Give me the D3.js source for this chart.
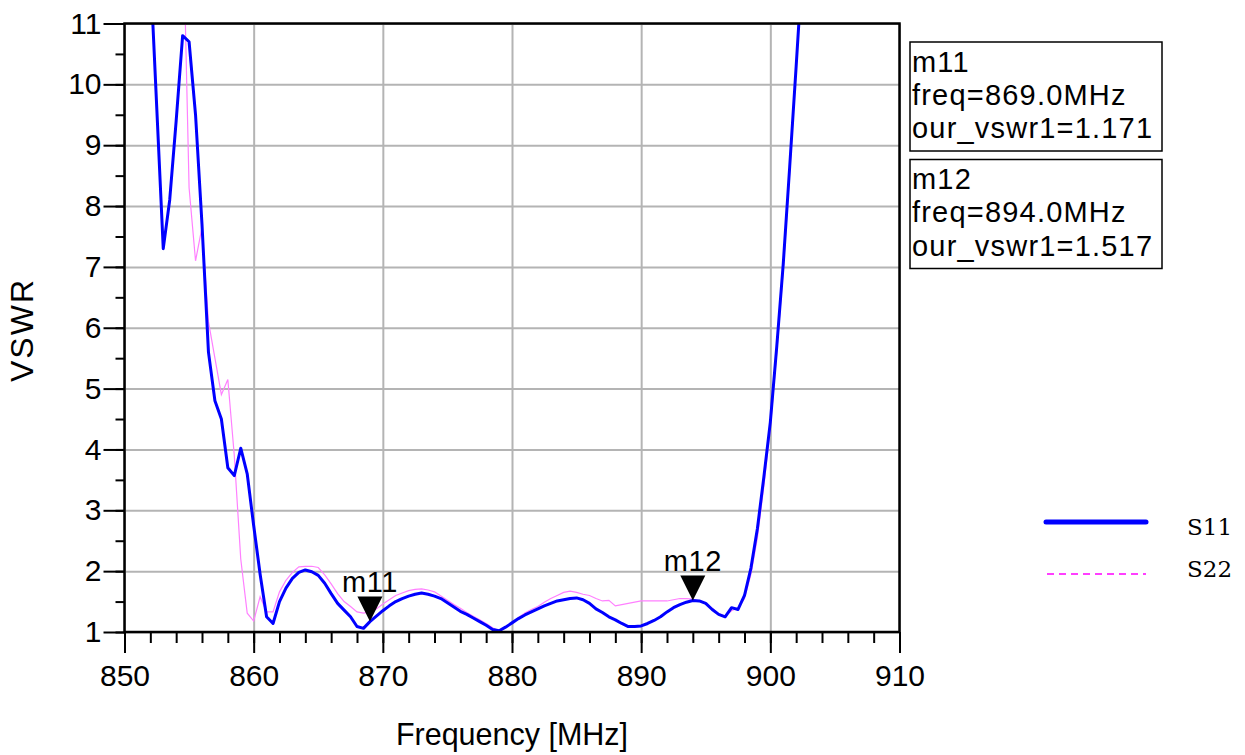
<!DOCTYPE html>
<html>
<head>
<meta charset="utf-8">
<script src="https://cdn.jsdelivr.net/npm/d3@7"></script>
<style>
  body { margin: 0; background: #fff; }
</style>
</head>
<body>
<div id="viz"></div>
<script>
const width = 1245;
const height = 755;
const margin = { top: 23.5, right: 345.5, bottom: 123, left: 124.5 };
const fontSans = '"Liberation Sans", Arial, sans-serif';

// sweep, MHz
const freq = [
  852.0, 852.5, 853.0, 853.5, 854.0, 854.5, 855.0, 855.5, 856.0, 856.5,
  857.0, 857.5, 858.0, 858.5, 859.0, 859.5, 860.0, 860.5, 861.0, 861.5,
  862.0, 862.5, 863.0, 863.5, 864.0, 864.5, 865.0, 865.5, 866.0, 866.5,
  867.0, 867.5, 868.0, 868.5, 869.0, 869.5, 870.0, 870.5, 871.0, 871.5,
  872.0, 872.5, 873.0, 873.5, 874.0, 874.5, 875.0, 875.5, 876.0, 876.5,
  877.0, 877.5, 878.0, 878.5, 879.0, 879.5, 880.0, 880.5, 881.0, 881.5,
  882.0, 882.5, 883.0, 883.5, 884.0, 884.5, 885.0, 885.5, 886.0, 886.5,
  887.0, 887.5, 888.0, 888.5, 889.0, 889.5, 890.0, 890.5, 891.0, 891.5,
  892.0, 892.5, 893.0, 893.5, 894.0, 894.5, 895.0, 895.5, 896.0, 896.5,
  897.0, 897.5, 898.0, 898.5, 899.0, 899.5, 900.0, 900.5, 901.0, 901.5,
  902.0, 902.5
];

const s11 = [
  11.9, 9.6, 7.3, 8.1, 9.4, 10.8, 10.7, 9.5, 7.7, 5.6,
  4.8, 4.5, 3.7, 3.57, 4.02, 3.6, 2.75, 1.95, 1.25, 1.14,
  1.5, 1.72, 1.88, 1.98, 2.02, 1.99, 1.93, 1.8, 1.63, 1.47,
  1.36, 1.25, 1.09, 1.06, 1.171, 1.26, 1.35, 1.43, 1.5, 1.55,
  1.59, 1.62, 1.64, 1.62, 1.59, 1.55, 1.48, 1.41, 1.34, 1.29,
  1.23, 1.17, 1.11, 1.04, 1.02, 1.08, 1.15, 1.22, 1.28, 1.33,
  1.38, 1.43, 1.47, 1.51, 1.53, 1.55, 1.56, 1.53, 1.47, 1.38,
  1.32, 1.25, 1.2, 1.14, 1.09, 1.09, 1.1, 1.14, 1.19, 1.25,
  1.33, 1.4, 1.45, 1.49, 1.517, 1.51, 1.47, 1.37, 1.29, 1.25,
  1.4, 1.37, 1.6, 2.05, 2.7, 3.55, 4.45, 5.7, 7.05, 8.65,
  10.3, 12.0
];

const s22 = [
  14, 14, 14, 14, 14, 13, 8.3, 7.1, 7.65, 6.1,
  5.5, 4.9, 5.15, 3.9, 2.2, 1.31, 1.18, 1.58, 1.33, 1.33,
  1.66, 1.85, 1.98, 2.07, 2.08, 2.08, 2.06, 1.94, 1.79, 1.63,
  1.5, 1.42, 1.33, 1.31, 1.33, 1.38, 1.46, 1.53, 1.6, 1.64,
  1.68, 1.7, 1.71, 1.69, 1.66, 1.59, 1.52, 1.45, 1.39, 1.32,
  1.26, 1.2, 1.14, 1.07, 1.02, 1.08, 1.15, 1.24, 1.31, 1.37,
  1.42, 1.49, 1.55, 1.6, 1.65, 1.67, 1.65, 1.62, 1.6, 1.55,
  1.51, 1.52, 1.43, 1.45, 1.47, 1.49, 1.51, 1.51, 1.51, 1.51,
  1.51, 1.53, 1.55, 1.55, 1.54, 1.51, 1.46, 1.39, 1.3, 1.26,
  1.35, 1.4, 1.55, 1.95, 2.55, 3.4, 4.35, 5.6, 6.95, 8.55,
  10.3, 12.0
];

const seriesNames = ['S11', 'S22'];
const markerNames = ['m11', 'm12'];
const markerFreq = [869.0, 894.0];
const markerVswr = [1.171, 1.517];

const xTicks = [850, 860, 870, 880, 890, 900, 910];
const yTicks = [1, 2, 3, 4, 5, 6, 7, 8, 9, 10, 11];

const plotW = width - margin.left - margin.right;
const plotH = height - margin.top - margin.bottom;

const x = d3.scaleLinear().domain([850, 910]).range([margin.left, margin.left + plotW]);
const y = d3.scaleLinear().domain([1, 11]).range([margin.top + plotH, margin.top]);

const svg = d3.select('#viz').append('svg')
  .attr('width', width)
  .attr('height', height)
  .attr('font-family', fontSans);

svg.append('defs').append('clipPath')
  .attr('id', 'plot-clip')
  .append('rect')
  .attr('x', margin.left)
  .attr('y', margin.top)
  .attr('width', plotW)
  .attr('height', plotH);

// grid
svg.append('g')
  .attr('transform', `translate(0,${margin.top + plotH})`)
  .call(d3.axisBottom(x).tickValues(xTicks).tickSize(-plotH).tickFormat(''))
  .call(g => g.select('.domain').remove())
  .selectAll('line').attr('stroke', '#b4b4b4').attr('stroke-width', 2);

svg.append('g')
  .attr('transform', `translate(${margin.left},0)`)
  .call(d3.axisLeft(y).tickValues(yTicks).tickSize(-plotW).tickFormat(''))
  .call(g => g.select('.domain').remove())
  .selectAll('line').attr('stroke', '#b4b4b4').attr('stroke-width', 2);

// minor ticks
svg.append('g')
  .attr('transform', `translate(0,${margin.top + plotH})`)
  .call(d3.axisBottom(x).tickValues(d3.range(850, 911, 2)).tickSize(11).tickFormat(''))
  .call(g => g.select('.domain').remove())
  .selectAll('line').attr('stroke', '#000').attr('stroke-width', 2);

svg.append('g')
  .attr('transform', `translate(${margin.left},0)`)
  .call(d3.axisLeft(y).tickValues(d3.range(1, 11.01, 0.5)).tickSize(9).tickFormat(''))
  .call(g => g.select('.domain').remove())
  .selectAll('line').attr('stroke', '#000').attr('stroke-width', 2);

// major ticks + labels
svg.append('g')
  .attr('transform', `translate(0,${margin.top + plotH})`)
  .call(d3.axisBottom(x).tickValues(xTicks).tickSize(21).tickPadding(12).tickFormat(d3.format('d')))
  .call(g => g.select('.domain').remove())
  .call(g => g.selectAll('line').attr('stroke', '#000').attr('stroke-width', 2))
  .call(g => g.selectAll('text')
    .attr('font-family', fontSans)
    .attr('font-size', 30).attr('fill', '#000'));

svg.append('g')
  .attr('transform', `translate(${margin.left},0)`)
  .call(d3.axisLeft(y).tickValues(yTicks).tickSize(21).tickPadding(2).tickFormat(d3.format('d')))
  .call(g => g.select('.domain').remove())
  .call(g => g.selectAll('line').attr('stroke', '#000').attr('stroke-width', 2))
  .call(g => g.selectAll('text')
    .attr('font-family', fontSans)
    .attr('font-size', 30).attr('fill', '#000'));

// curves
const line = d3.line()
  .x(d => x(d[0]))
  .y(d => y(d[1]));

const plot = svg.append('g').attr('clip-path', 'url(#plot-clip)');

plot.append('path')
  .attr('fill', 'none')
  .attr('stroke', '#ff80ff')
  .attr('stroke-width', 1.2)
  .attr('d', line(d3.zip(freq, s22)));

plot.append('path')
  .attr('fill', 'none')
  .attr('stroke', '#0000ff')
  .attr('stroke-width', 3)
  .attr('stroke-linejoin', 'round')
  .attr('d', line(d3.zip(freq, s11)));

// frame
svg.append('rect')
  .attr('x', margin.left)
  .attr('y', margin.top)
  .attr('width', plotW)
  .attr('height', plotH)
  .attr('fill', 'none')
  .attr('stroke', '#000')
  .attr('stroke-width', 2.5);

// markers
const mk = svg.append('g');
markerNames.forEach((name, i) => {
  const mx = x(markerFreq[i]);
  const my = y(markerVswr[i]);
  mk.append('path')
    .attr('fill', '#000')
    .attr('d', `M${mx},${my}L${mx - 12.5},${my - 25}L${mx + 12.5},${my - 25}Z`);
  mk.append('text')
    .attr('x', mx)
    .attr('y', my - 30)
    .attr('text-anchor', 'middle')
    .attr('font-size', 29)
    .attr('letter-spacing', 0.5)
    .text(name);
});

// marker readouts
const boxTop = [42, 159.5];
markerNames.forEach((name, i) => {
  const g = svg.append('g').attr('transform', `translate(910,${boxTop[i]})`);
  g.append('rect')
    .attr('width', 252)
    .attr('height', 109)
    .attr('fill', '#fff')
    .attr('stroke', '#000')
    .attr('stroke-width', 1.5);
  const rows = [name,
    `freq=${markerFreq[i].toFixed(1)}MHz`,
    `our_vswr1=${markerVswr[i].toFixed(3)}`];
  g.selectAll('text')
    .data(rows)
    .enter()
    .append('text')
    .attr('x', 2)
    .attr('y', (d, j) => 29.5 + j * 33.4)
    .attr('font-size', 29)
    .attr('letter-spacing', 1.2)
    .text(d => d);
});

// legend
const legend = svg.append('g');
legend.append('line')
  .attr('x1', 1046).attr('x2', 1146)
  .attr('y1', 522).attr('y2', 522)
  .attr('stroke', '#0000ff')
  .attr('stroke-width', 5)
  .attr('stroke-linecap', 'round');
legend.append('line')
  .attr('x1', 1047).attr('x2', 1146)
  .attr('y1', 574).attr('y2', 574)
  .attr('stroke', '#ff00ff')
  .attr('stroke-width', 1.5)
  .attr('stroke-dasharray', '7,5');
legend.selectAll('.legend-text')
  .data(seriesNames)
  .enter()
  .append('text')
  .attr('class', 'legend-text')
  .attr('x', 1187)
  .attr('y', (d, i) => 535 + i * 42)
  .attr('font-family', '"DejaVu Serif", serif')
  .attr('font-size', 23)
  .text(d => d);

// axis titles
svg.append('text')
  .attr('x', x(880))
  .attr('y', 745)
  .attr('text-anchor', 'middle')
  .attr('font-size', 30.5)
  .text('Frequency [MHz]');

svg.append('text')
  .attr('transform', 'translate(33,330) rotate(-90)')
  .attr('text-anchor', 'middle')
  .attr('font-size', 32)
  .attr('letter-spacing', 2)
  .text('VSWR');
</script>
</body>
</html>
